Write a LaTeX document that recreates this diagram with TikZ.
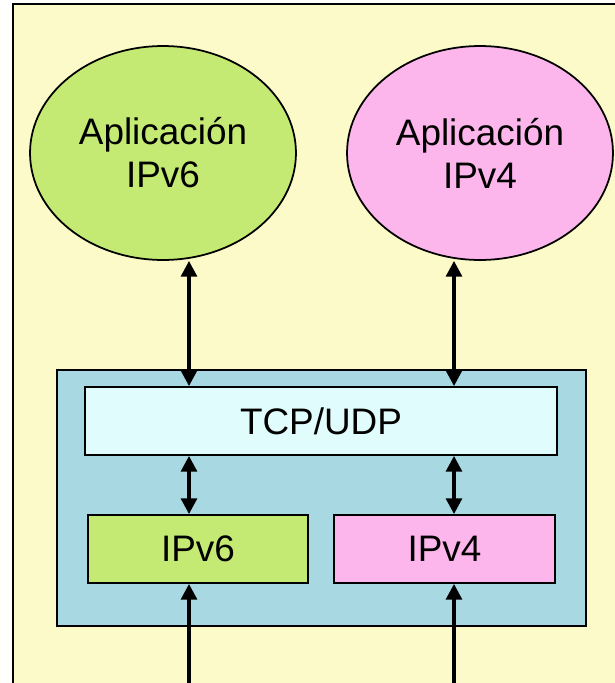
\documentclass[tikz,border=0pt]{standalone}
\usepackage{fontspec}
\setmainfont{Liberation Sans}
\usetikzlibrary{shapes.geometric,arrows.meta}
\definecolor{fondo}{HTML}{FCFAC8}
\definecolor{verde}{HTML}{C4EA74}
\definecolor{rosa}{HTML}{FCB6EC}
\definecolor{azul}{HTML}{A8D8E2}
\definecolor{celeste}{HTML}{E0FCFC}

\begin{document}
\begin{tikzpicture}[x=0.02cm, y=-0.02cm,
	app/.style={ellipse, draw, line width=1pt, minimum width=5.32cm, minimum height=4.28cm, align=center, font=\fontsize{21}{24.4}\selectfont},
	caja/.style={rectangle, draw, line width=1pt, minimum height=1.36cm, font=\fontsize{21}{24.4}\selectfont},
	flecha/.style={line width=2pt, {Triangle[length=9pt,width=9pt]}-{Triangle[length=9pt,width=9pt]}},
	sube/.style={line width=2pt, -{Triangle[length=9pt,width=9pt]}}]
	\clip (0,0) rectangle (615,683);
	\draw[fill=fondo, line width=1.2pt] (13,4) rectangle (640,700);
	\draw (163,153) node[app, fill=verde](app6) {Aplicación\\IPv6};
	\draw (480,153) node[app, fill=rosa](app4) {Aplicación\\IPv4};
	\draw (321.5,498) node[rectangle, draw, line width=0.8pt, fill=azul, minimum width=10.58cm, minimum height=5.12cm](pila) {};
	\draw (321,421) node[caja, fill=celeste, minimum width=9.44cm](tcp) {TCP/UDP};
	\draw (198,549) node[caja, fill=verde, minimum width=4.4cm](ip6) {IPv6};
	\draw (444.5,549) node[caja, fill=rosa, minimum width=4.42cm](ip4) {IPv4};
	\coordinate (x6) at (189,683);
	\coordinate (x4) at (454,683);
	\draw[flecha] (app6.south -| x6) -- (tcp.north -| x6);
	\draw[flecha] (app4.south -| x4) -- (tcp.north -| x4);
	\draw[flecha] (tcp.south -| x6) -- (ip6.north -| x6);
	\draw[flecha] (tcp.south -| x4) -- (ip4.north -| x4);
	\draw[sube] (x6) -- (ip6.south -| x6);
	\draw[sube] (x4) -- (ip4.south -| x4);
\end{tikzpicture}
\end{document}
